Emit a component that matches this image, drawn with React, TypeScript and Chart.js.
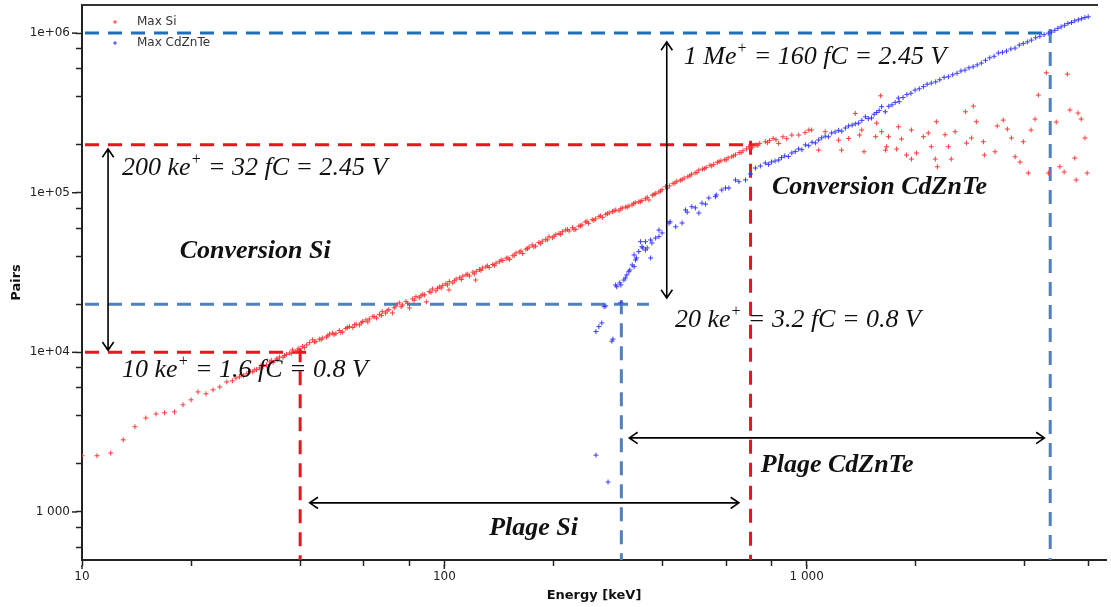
import React, { useEffect, useRef } from "react";
import { Chart, registerables } from "chart.js";
Chart.register(...registerables);

// ---------- data ----------
const xTickValues = [10, 20, 40, 60, 80, 100, 200, 400, 600, 800, 1000, 2000, 4000, 6000];
const xTickLabels: Record<string, string> = { "10": "10", "100": "100", "1000": "1 000" };
const yTickValues = [600, 800, 1000, 2000, 4000, 6000, 8000, 10000, 20000, 40000, 60000, 80000, 100000, 200000, 400000, 600000, 800000, 1000000];
const yTickLabels: Record<string, string> = { "1000": "1 000", "10000": "1e+04", "100000": "1e+05", "1000000": "1e+06" };

const seriesNames = ["Max Si", "Max CdZnTe"];

const siPoints: [number, number][] = [
  [10, 2250], [11, 2250], [12, 2340], [13, 2830], [14, 3420], [15, 3880], [16, 4110], [16.9, 4180], [18, 4240], [19, 4690],
  [20, 5040], [20.9, 5650], [22, 5500], [23, 5820], [24, 6070], [25.1, 6530], [26, 6630],
  [26.6, 6900], [27.2, 7020], [27.9, 7150], [28.5, 7330], [29.1, 7600], [29.6, 7540], [30.3, 7800], [30.9, 7980], [31.6, 8150],
  [32.3, 8340], [33.0, 8700], [33.7, 8650], [34.4, 9100], [35.1, 9350], [35.9, 9300], [36.7, 9700], [37.4, 9900], [38.1, 10350],
  [38.9, 10100], [39.7, 10600], [40.6, 10900], [41.7, 11120], [42.5, 11500], [43.3, 11970], [44.2, 11700], [45.2, 12100],
  [46.2, 12300], [47.3, 12480], [48.2, 13000], [49.1, 13210], [50.2, 13100], [51.3, 13700], [52.4, 13420], [53.5, 14100],
  [54.7, 14490], [55.9, 14300], [57.1, 15000], [58.3, 14850], [59.5, 15600], [60.8, 15960], [62.1, 16200], [63.5, 16800],
  [65.0, 16410], [66.2, 17300], [67.4, 17990], [68.8, 17600], [70.3, 18500], [71.9, 17650], [73.5, 19500], [75.1, 20390],
  [76.7, 19800], [78.4, 20800], [80.1, 18970], [81.8, 21600], [83.5, 22320], [85.3, 22000], [87.2, 23100], [89.2, 20690],
  [90.9, 24000], [92.7, 24950], [94.8, 24300], [96.9, 25700], [99.0, 26300], [101, 26900], [103, 24600], [103.2, 27740],
  [105.5, 27200], [107.8, 28800], [110.2, 29300], [112.5, 30000], [114.8, 30550], [117.3, 30100], [119.9, 31800], [122, 28380],
  [122.5, 32200], [125, 33000], [127.4, 33770], [130.2, 34300], [133, 34000], [136, 35500], [138.9, 36200], [141.8, 36970],
  [145, 37600], [148.2, 38900], [151.4, 38200], [154.6, 40300], [157.7, 41910], [161, 42500], [164.5, 41600], [168, 44300],
  [171.3, 45600], [174.7, 47070], [178.5, 46300], [182.4, 48800], [186.4, 49700], [190.4, 51000], [194.5, 52990], [198.7, 52200],
  [203, 54600], [207.3, 55600], [211.7, 57000], [216.2, 58340], [221, 57600], [225.8, 60300], [230.5, 59000], [235.2, 61800],
  [239.8, 62790], [245, 65500], [250, 64300], [256, 67800], [261.5, 68600], [267.2, 70790], [273, 70000], [279, 73200],
  [285, 74800], [291, 76100], [297.2, 78000], [303.5, 77100], [310, 80200], [316.5, 81400], [323, 82600], [329.6, 83810],
  [336.5, 86500], [344, 87800], [351, 89400], [359, 91600], [367, 90040], [375, 96500], [383, 99000], [391, 101000],
  [399, 104500], [408, 109100], [418, 110500], [428, 114000], [438, 117800], [448, 119600], [459, 123500], [470, 126000],
  [481, 130400], [492, 133000], [504, 138700], [516, 140500], [528, 144000], [541, 148800], [554, 150500], [567, 155000],
  [580, 158500], [594, 161000], [607, 165300], [621, 168000], [636, 172800], [651, 178500], [667, 183200], [682, 188000],
  [692, 194100], [708, 193000], [725, 199500], [742, 204000], [769, 208600], [790, 212000], [808, 219000], [837, 203800],
  [27.5, 7250], [29.9, 7750], [31.2, 8300], [33.3, 8900], [34.7, 9000], [36.2, 9550], [37.8, 9850], [39.3, 10300],
  [41.1, 10700], [43.8, 11600], [45.7, 12000], [47.7, 12700], [49.6, 12900], [51.8, 13300], [54, 14300], [56.5, 14900],
  [59, 15300], [61.5, 15500], [64, 16700], [67, 17000], [69.5, 18200], [72.7, 19000], [76, 19300], [79.2, 20300],
  [82.6, 21200], [86.2, 22600], [88.2, 22900], [91.8, 23800], [95.8, 25200], [98, 25300], [102, 26400], [106.6, 28100],
  [111.4, 28600], [116, 30900], [121, 31000], [126.2, 32600], [131.6, 34800], [137.5, 35000], [143.4, 37900], [150, 39000],
  [156, 40500], [162.7, 43100], [169.6, 44600], [176.6, 45800], [184.4, 48000], [192.4, 50600], [200.8, 53400], [209.5, 54800],
  [218.6, 58800], [228, 58700], [237.5, 62000], [247.5, 66200], [258.7, 67200], [270, 71600], [282, 73900], [294, 76900],
  [306.7, 79300], [319.7, 81200], [333, 85600], [347.5, 87600], [363, 93500], [379, 97600], [395, 102500], [413, 107000],
  [433, 115000], [453, 120800], [476, 127600], [498, 134000], [522, 141500], [547, 146900], [573, 156500], [600, 160500],
  [628, 170200], [659, 178000], [700, 190400], [733, 198000], [780, 206000], [823, 214800],
  [860, 224000], [881, 218000], [910, 229800], [951, 229800], [990, 238000], [1014, 247100], [1032, 247100], [1079, 184900],
  [1125, 241100], [1225, 213400], [1248, 184900], [1306, 218800], [1362, 314000], [1560, 273000], [1650, 184900],
  [1419, 247100], [1400, 229800], [1440, 180600], [1550, 224400], [1600, 404800], [1610, 241100], [1662, 194100], [1682, 224400],
  [1771, 187800], [1791, 258800], [1827, 216900], [1885, 172200], [1946, 247100], [1946, 162500], [2009, 177300], [2100, 224400],
  [2166, 236600], [2208, 194100], [2265, 162500], [2280, 278500], [2295, 145500], [2410, 230800], [2461, 194100], [2507, 162500],
  [2568, 241100], [2743, 321500], [2760, 204600], [2851, 220300], [2884, 348800], [2939, 278500], [3074, 208600], [3093, 172200],
  [3310, 180600], [3357, 261700], [3488, 285100], [3580, 250400], [3673, 220300], [3760, 168000], [3880, 155600], [3963, 208600],
  [4090, 132800], [4161, 247100], [4268, 289400], [4358, 409000], [4585, 563900], [4645, 132800], [4883, 277300], [4996, 145500],
  [5136, 134800], [5240, 553300], [5327, 329600], [5495, 164800], [5543, 120200], [5610, 315500], [5722, 289400], [5861, 220300],
  [5943, 132800],
];

const czPoints: [number, number][] = [
  [262, 2270], [283, 1540],
  [262, 13490], [267, 14490], [272, 15280], [276, 19320], [279, 19540], [290, 11750], [292, 12100],
  [297, 26430], [299, 25770], [305, 27220], [307, 26430], [307, 20460], [313, 28380], [316, 29240], [319, 30550], [323, 32020],
  [325, 32810], [330, 35260], [334, 34420], [334, 40750], [337, 37900], [339, 39000], [344, 42760], [348, 49340], [351, 45880],
  [353, 45080], [359, 49340], [359, 43750], [363, 45080], [371, 50580], [371, 39000], [374, 48420], [383, 52000], [391, 58340],
  [391, 53090], [399, 55980], [417, 64620], [420, 65770], [435, 61190], [453, 64620], [463, 78000], [468, 75500], [482, 81700],
  [493, 80400], [504, 74640], [514, 86100], [526, 84800], [537, 92700], [560, 94450], [563, 96800], [583, 104000], [597, 107000],
  [610, 107000], [636, 120200], [650, 117300], [678, 120200], [700, 131000], [722, 142800], [745, 147000], [769, 153500],
  [785, 150500], [800, 155800], [818, 158000], [837, 160300], [852, 166000], [870, 170000], [890, 168500], [910, 177300],
  [930, 181000], [950, 188000], [970, 186000], [992, 199300], [1013, 197000], [1035, 207000], [1057, 205000], [1079, 214000],
  [1100, 221000], [1125, 226000], [1148, 224000], [1172, 236600], [1198, 240000], [1225, 246000], [1250, 243000], [1279, 254300],
  [1305, 262000], [1335, 265000], [1362, 270000], [1391, 273100], [1420, 284000], [1452, 299000], [1480, 291000], [1510, 293900],
  [1535, 310000], [1560, 318000], [1585, 327000], [1610, 346000], [1648, 321500], [1685, 348000], [1720, 355000], [1755, 368000],
  [1791, 391700], [1800, 371500], [1845, 395000], [1890, 412000], [1940, 420000], [1991, 439700], [2045, 448000], [2100, 462000],
  [2150, 478000], [2208, 486400], [2270, 495000], [2330, 510000], [2395, 528000], [2461, 532600], [2530, 548000], [2600, 560000],
  [2665, 579000], [2735, 586600], [2805, 606000], [2880, 615000], [2955, 632000], [3034, 648800], [3115, 675000], [3200, 700000],
  [3290, 716000], [3380, 750000], [3470, 758000], [3560, 772000], [3660, 795000], [3760, 805400], [3860, 842000], [3960, 860000],
  [4065, 880000], [4169, 903700], [4285, 935000], [4400, 955000], [4520, 978000], [4645, 1000000], [4740, 1015000],
  [4840, 1040000], [4935, 1072000], [5036, 1094000], [5150, 1120000], [5260, 1150000], [5380, 1165000], [5495, 1194000],
  [5620, 1212000], [5740, 1230000], [5860, 1252000], [5984, 1265000],
];

// guide lines (energy in keV, pairs)
const guideSiHigh = { energy: 700, pairs: 200000, hEnd: 738 };
const guideSiLow = { energy: 40, pairs: 10000, hEnd: 42.5 };
const guideCzHigh = { energy: 4700, pairs: 1000000, hEnd: 4700 };
const guideCzLow = { energy: 308, pairs: 20000, hEnd: 367 };

// arrows: [x1, y1, x2, y2] in data units
const arrowSiConv = [11.8, 188000, 11.8, 10300];
const arrowCzConv = [411, 880000, 411, 21900];
const arrowSiRange = [42.5, 1140, 650, 1140];
const arrowCzRange = [324, 2910, 4530, 2910];

// text labels: [energy(left), pairs(center)]
const textCzHigh = { at: [458, 708000], parts: ["1 Me", "+", " = 160 fC = 2.45 V"] };
const textSiHigh = { at: [12.9, 143000], parts: ["200 ke", "+", " = 32 fC = 2.45 V"] };
const textCzLow = { at: [433, 15970], parts: ["20 ke", "+", " = 3.2 fC = 0.8 V"] };
const textSiLow = { at: [12.9, 7760], parts: ["10 ke", "+", " = 1.6 fC = 0.8 V"] };
const titleConvSi = { at: [18.6, 43100], text: "Conversion Si" };
const titleConvCz = { at: [802, 108600], text: "Conversion CdZnTe" };
const titlePlageCz = { at: [747, 1973], text: "Plage CdZnTe" };
const titlePlageSi = { at: [133, 794], text: "Plage Si" };

// ---------- styles ----------
const RED = "#ff3b3b";
const BLUE = "#3a3aff";
const GUIDE_RED = "#e8141e";
const GUIDE_BLUE_DARK = "#1f6fb8";
const GUIDE_BLUE = "#4f80bf";
const SANS = "'DejaVu Sans', Verdana, sans-serif";
const SERIF = "'Liberation Serif', 'Times New Roman', serif";
const ANNOT_SIZE = 26;

function drawArrow(ctx: CanvasRenderingContext2D, x1: number, y1: number, x2: number, y2: number) {
  const head = 10;
  const ang = Math.atan2(y2 - y1, x2 - x1);
  ctx.beginPath();
  ctx.moveTo(x1, y1);
  ctx.lineTo(x2, y2);
  const heads: [number, number, number][] = [[x2, y2, ang], [x1, y1, ang + Math.PI]];
  for (const [hx, hy, a] of heads) {
    ctx.moveTo(hx - head * Math.cos(a - 0.6), hy - head * Math.sin(a - 0.6));
    ctx.lineTo(hx, hy);
    ctx.lineTo(hx - head * Math.cos(a + 0.6), hy - head * Math.sin(a + 0.6));
  }
  ctx.stroke();
}

function drawRich(ctx: CanvasRenderingContext2D, parts: string[], x: number, y: number, size: number) {
  let cx = x;
  ctx.textBaseline = "middle";
  ctx.textAlign = "left";
  parts.forEach((p, i) => {
    const sup = i === 1;
    ctx.font = `italic ${sup ? Math.round(size * 0.6) : size}px ${SERIF}`;
    ctx.fillText(p, cx, sup ? y - size * 0.33 : y);
    cx += ctx.measureText(p).width;
  });
}

const annotationPlugin = {
  id: "annotations",
  beforeDatasetsDraw(chart: any) {
    const { ctx, chartArea, scales } = chart;
    const xs = scales.x, ys = scales.y;
    const X = (v: number) => xs.getPixelForValue(v);
    const Y = (v: number) => ys.getPixelForValue(v);
    ctx.save();
    ctx.beginPath();
    ctx.rect(chartArea.left, chartArea.top, chartArea.right - chartArea.left, chartArea.bottom - chartArea.top);
    ctx.clip();
    ctx.lineWidth = 3;
    const xmin = xs.min, ymin = ys.min;
    const guides: [any, string, string][] = [
      [guideCzHigh, GUIDE_BLUE_DARK, GUIDE_BLUE],
      [guideCzLow, GUIDE_BLUE, GUIDE_BLUE],
      [guideSiHigh, GUIDE_RED, GUIDE_RED],
      [guideSiLow, GUIDE_RED, GUIDE_RED],
    ];
    for (const [g, hc, vc] of guides) {
      ctx.setLineDash([14, 9]);
      ctx.strokeStyle = hc;
      ctx.beginPath();
      ctx.moveTo(X(xmin) + 3, Y(g.pairs));
      ctx.lineTo(X(g.hEnd), Y(g.pairs));
      ctx.stroke();
      ctx.strokeStyle = vc;
      ctx.beginPath();
      ctx.moveTo(X(g.energy), Y(g.pairs * 1.06));
      ctx.lineTo(X(g.energy), Y(ymin));
      ctx.stroke();
    }
    ctx.restore();
  },
  afterDatasetsDraw(chart: any) {
    const { ctx, scales } = chart;
    const xs = scales.x, ys = scales.y;
    const X = (v: number) => xs.getPixelForValue(v);
    const Y = (v: number) => ys.getPixelForValue(v);
    ctx.save();
    ctx.strokeStyle = "#000";
    ctx.lineWidth = 1.6;
    for (const a of [arrowSiConv, arrowCzConv, arrowSiRange, arrowCzRange]) {
      drawArrow(ctx, X(a[0]), Y(a[1]), X(a[2]), Y(a[3]));
    }
    ctx.fillStyle = "#111";
    for (const t of [textCzHigh, textSiHigh, textCzLow, textSiLow]) {
      drawRich(ctx, t.parts, X(t.at[0]), Y(t.at[1]), ANNOT_SIZE);
    }
    ctx.font = `italic bold ${ANNOT_SIZE}px ${SERIF}`;
    ctx.textBaseline = "middle";
    ctx.textAlign = "left";
    for (const t of [titleConvSi, titleConvCz, titlePlageCz, titlePlageSi]) {
      ctx.fillText(t.text, X(t.at[0]), Y(t.at[1]));
    }
    ctx.restore();
  },
  afterDraw(chart: any) {
    const { ctx, chartArea, scales } = chart;
    ctx.save();
    // top border
    ctx.strokeStyle = "#333";
    ctx.lineWidth = 2;
    ctx.beginPath();
    ctx.moveTo(chartArea.left, chartArea.top);
    ctx.lineTo(chartArea.right - 8, chartArea.top);
    ctx.stroke();
    // longer major ticks
    ctx.strokeStyle = "#222";
    ctx.lineWidth = 1.5;
    for (const v of Object.keys(yTickLabels)) {
      const py = scales.y.getPixelForValue(Number(v));
      ctx.beginPath();
      ctx.moveTo(chartArea.left - 5, py);
      ctx.lineTo(chartArea.left - 10, py);
      ctx.stroke();
    }
    for (const v of Object.keys(xTickLabels)) {
      const px = scales.x.getPixelForValue(Number(v));
      ctx.beginPath();
      ctx.moveTo(px, chartArea.bottom + 5);
      ctx.lineTo(px, chartArea.bottom + 9);
      ctx.stroke();
    }
    // legend
    const colors = [RED, BLUE];
    ctx.font = `12px ${SANS}`;
    ctx.textBaseline = "middle";
    ctx.textAlign = "left";
    seriesNames.forEach((name, i) => {
      const y = 22 + i * 21;
      ctx.strokeStyle = colors[i];
      ctx.lineWidth = 1;
      ctx.beginPath();
      ctx.moveTo(113, y); ctx.lineTo(117, y);
      ctx.moveTo(115, y - 2); ctx.lineTo(115, y + 2);
      ctx.stroke();
      ctx.fillStyle = "#333";
      ctx.fillText(name, 137, y);
    });
    ctx.restore();
  },
};

export default function App() {
  const ref = useRef<HTMLCanvasElement>(null);
  useEffect(() => {
    document.body.style.margin = "0";
    const canvas = ref.current!;
    const chart = new Chart(canvas, {
      type: "scatter",
      data: {
        datasets: [
          {
            label: seriesNames[0],
            data: siPoints.map(([x, y]) => ({ x, y })),
            pointStyle: "cross",
            radius: 2.5,
            borderWidth: 1,
            borderColor: RED,
            backgroundColor: RED,
          },
          {
            label: seriesNames[1],
            data: czPoints.map(([x, y]) => ({ x, y })),
            pointStyle: "cross",
            radius: 2.5,
            borderWidth: 1,
            borderColor: BLUE,
            backgroundColor: BLUE,
          },
        ],
      },
      options: {
        animation: false,
        responsive: false,
        devicePixelRatio: 1,
        layout: { padding: { top: 5, right: 3, left: 0, bottom: 0 } },
        plugins: { legend: { display: false }, tooltip: { enabled: false } },
        scales: {
          x: {
            type: "logarithmic",
            min: 10,
            max: 6700,
            afterBuildTicks: (s: any) => {
              s.ticks = xTickValues.map((v) => ({ value: v }));
            },
            afterFit: (s: any) => {
              s.height = 47;
              s.paddingLeft = 0;
              s.paddingRight = 0;
            },
            ticks: {
              autoSkip: false,
              maxRotation: 0,
              padding: 4,
              color: "#222",
              font: { family: SANS, size: 12 },
              callback: (v: any) => xTickLabels[String(v)] ?? "",
            },
            grid: { drawOnChartArea: false, tickLength: 6, tickColor: "#222", tickWidth: 1.5 },
            border: { color: "#222", width: 2 },
            title: {
              display: true,
              text: "Energy [keV]",
              color: "#111",
              font: { family: SANS, size: 13, weight: "bold" },
              padding: { top: 0, bottom: 4 },
            },
          },
          y: {
            type: "logarithmic",
            min: 500,
            max: 1500000,
            afterBuildTicks: (s: any) => {
              s.ticks = yTickValues.map((v) => ({ value: v }));
            },
            afterFit: (s: any) => {
              s.width = 82;
              s.paddingTop = 0;
              s.paddingBottom = 0;
            },
            ticks: {
              autoSkip: false,
              padding: 6,
              color: "#222",
              font: { family: SANS, size: 12 },
              callback: (v: any) => yTickLabels[String(v)] ?? "",
            },
            grid: { drawOnChartArea: false, tickLength: 6, tickColor: "#222", tickWidth: 1.5 },
            border: { color: "#222", width: 2 },
            title: {
              display: true,
              text: "Pairs",
              color: "#111",
              font: { family: SANS, size: 13, weight: "bold" },
              padding: { top: 9, bottom: 0 },
            },
          },
        },
      },
      plugins: [annotationPlugin],
    } as any);
    return () => chart.destroy();
  }, []);
  return <canvas ref={ref} width={1111} height={607} style={{ display: "block", width: 1111, height: 607 }} />;
}
